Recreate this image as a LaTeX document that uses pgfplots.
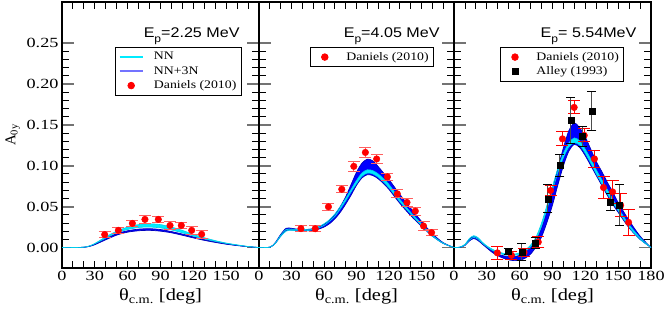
\documentclass[border=0pt]{standalone}
\usepackage{fontspec}
\setmainfont{Liberation Serif}
\newfontfamily\tickfont{Liberation Serif}[FakeStretch=1.3]
\newfontfamily\legfont{Liberation Serif}[FakeStretch=1.2]
\newfontfamily\titlefont{Liberation Sans}[FakeStretch=1.15]
\usepackage{pgfplots}
\usepackage{pgfplotstable}
\pgfplotsset{compat=1.18}
\usepgfplotslibrary{fillbetween}

\definecolor{nncol}{RGB}{0,235,255}
\definecolor{nnedge}{RGB}{0,205,235}
\definecolor{tnfill}{RGB}{0,0,255}
\definecolor{tnedge}{RGB}{0,0,190}
\definecolor{tnleg}{RGB}{115,115,255}
\definecolor{errred}{RGB}{255,95,95}

% theta, NN upper, NN lower, NN+3N upper, NN+3N lower
\pgfplotstableread{
t nu nl tu tl
0 0 0 0 0
10 0 0 0 0
20 0.0005 0.0004 0.0004 0.0003
25 0.002 0.0018 0.0017 0.0014
30 0.005 0.0045 0.004 0.0035
40 0.013 0.0115 0.011 0.0095
50 0.020 0.018 0.017 0.0152
60 0.025 0.022 0.0205 0.0188
70 0.028 0.0245 0.0225 0.0205
80 0.029 0.025 0.023 0.021
90 0.028 0.024 0.022 0.020
100 0.025 0.0215 0.0195 0.018
110 0.021 0.018 0.0165 0.015
120 0.016 0.014 0.013 0.0118
130 0.012 0.0105 0.0097 0.0088
140 0.0085 0.0075 0.007 0.0063
150 0.0055 0.005 0.0046 0.0041
160 0.0033 0.003 0.0027 0.0024
170 0.0013 0.0012 0.0011 0.001
180 0 0 0 0
}\bandA

\pgfplotstableread{
t nu nl tu tl
0 0 0 0 0
10 0.0005 0.0004 0.0005 0.0004
15 0.0055 0.005 0.006 0.005
20 0.015 0.0135 0.016 0.014
25 0.022 0.020 0.0235 0.021
30 0.0225 0.021 0.0235 0.0215
35 0.022 0.0205 0.0225 0.021
40 0.022 0.0205 0.0222 0.0205
45 0.0222 0.0208 0.0222 0.0205
50 0.023 0.0218 0.023 0.021
55 0.0255 0.024 0.025 0.0225
60 0.029 0.027 0.028 0.025
65 0.034 0.032 0.033 0.029
70 0.041 0.038 0.040 0.035
75 0.050 0.047 0.050 0.043
80 0.060 0.057 0.062 0.053
85 0.071 0.068 0.077 0.064
90 0.082 0.078 0.092 0.076
95 0.091 0.087 0.103 0.085
100 0.095 0.091 0.108 0.089
105 0.094 0.090 0.106 0.088
110 0.090 0.086 0.099 0.084
115 0.084 0.080 0.091 0.078
120 0.077 0.073 0.083 0.071
130 0.059 0.056 0.065 0.054
140 0.043 0.041 0.048 0.039
150 0.029 0.027 0.032 0.026
160 0.015 0.014 0.017 0.014
170 0.0055 0.005 0.006 0.005
180 0 0 0 0
}\bandB

\pgfplotstableread{
t nu nl tu tl
0 0 0 0 0
5 0.0005 0.0003 0.0003 0.0002
10 0.004 0.003 0.003 0.0025
14 0.011 0.009 0.010 0.008
18 0.0145 0.0125 0.013 0.011
22 0.012 0.010 0.010 0.0085
26 0.0065 0.005 0.005 0.004
30 0.002 0.001 0.0005 -0.0005
35 -0.002 -0.0035 -0.004 -0.006
40 -0.005 -0.0065 -0.008 -0.010
45 -0.007 -0.0085 -0.010 -0.013
50 -0.008 -0.0095 -0.011 -0.015
55 -0.008 -0.0095 -0.011 -0.016
60 -0.0065 -0.008 -0.0095 -0.0155
65 -0.003 -0.005 -0.006 -0.013
70 0.003 0.001 0.000 -0.008
75 0.013 0.010 0.009 0.001
80 0.030 0.026 0.024 0.013
85 0.052 0.047 0.045 0.031
90 0.075 0.070 0.070 0.052
95 0.097 0.092 0.097 0.077
100 0.115 0.110 0.122 0.100
105 0.128 0.123 0.143 0.118
110 0.134 0.128 0.152 0.126
115 0.130 0.125 0.146 0.122
120 0.120 0.115 0.135 0.112
125 0.108 0.103 0.120 0.100
130 0.095 0.090 0.105 0.088
135 0.083 0.078 0.093 0.076
140 0.071 0.066 0.080 0.064
145 0.059 0.055 0.068 0.053
150 0.048 0.045 0.055 0.043
160 0.028 0.025 0.033 0.024
170 0.012 0.010 0.014 0.010
180 0 0 0 0
}\bandC

\pgfplotstableread{
t a e
39 0.0158 0.004
51.5 0.021 0.004
64.3 0.0295 0.004
75.8 0.0344 0.005
88 0.0344 0.004
98.7 0.027 0.005
109 0.027 0.004
118.5 0.021 0.005
127.6 0.0162 0.005
}\danA

\pgfplotstableread{
t a e
38.7 0.0231 0.004
51.9 0.023 0.004
64.1 0.0498 0.004
76.4 0.0712 0.004
87.5 0.0992 0.006
98.2 0.1162 0.006
108.6 0.1082 0.005
118.5 0.0863 0.004
127.7 0.0656 0.005
136.6 0.0551 0.005
144.3 0.0445 0.005
151.9 0.0263 0.005
159.3 0.0182 0.004
}\danB

\pgfplotstableread{
t a e
39.6 -0.0065 0.008
52.5 -0.0095 0.005
64 -0.006 0.005
77 0.0068 0.007
88.2 0.0697 0.006
99.1 0.1328 0.0087
109.8 0.1712 0.008
119 0.137 0.008
128.3 0.1083 0.01
136.6 0.0733 0.013
144.9 0.068 0.014
152.3 0.0516 0.014
159.5 0.0308 0.016
}\danC

\pgfplotstableread{
t a e
49.7 -0.005 0.004
62 -0.0053 0.01
74.1 0.0052 0.0067
85.7 0.0595 0.017
96.8 0.1004 0.0135
106.8 0.1551 0.028
117.4 0.1357 0.0125
126 0.1671 0.024
142.8 0.0555 0.0105
151 0.0518 0.025
}\alleyC

\pgfplotsset{
  panel/.style={
    scale only axis, height=266bp,
    xmin=0, xmax=180, ymin=-0.025, ymax=0.3,
    xtick={0,30,60,90,120,150,180}, minor x tick num=2,
    ytick={0,0.05,0.1,0.15,0.2,0.25}, minor y tick num=4,
    tick align=inside, xtick pos=both, ytick pos=both,
    axis line style={black, line width=1.2bp},
    major tick length=7bp, minor tick length=7bp,
    major x tick style={black, line width=0.9bp},
    minor x tick style={black, line width=0.9bp},
    major y tick style={/pgfplots/major tick length=12bp, black!55, line width=1.8bp},
    minor y tick style={black, line width=0.9bp},
    /pgf/number format/assume math mode=true,
    tick label style={font=\tickfont\fontsize{14bp}{16bp}\selectfont},
    yticklabel style={/pgf/number format/.cd, fixed, fixed zerofill, precision=2},
    xlabel={θ\textsubscript{c.m.} [deg]},
    xlabel style={font=\legfont\fontsize{17bp}{19bp}\selectfont, yshift=-1bp},
    legend cell align=left,
    legend style={font=\legfont\fontsize{11.5bp}{13bp}\selectfont, draw=black, line width=0.8bp,
      inner xsep=3bp, inner ysep=3bp, row sep=1.2bp, anchor=north west,
      /tikz/every odd column/.append style={column sep=8bp}},
    legend image code/.code={\path[draw=none, fill=none] (0bp,-3bp) rectangle (23bp,3bp);
      \draw[mark repeat=2, mark phase=2, ##1] plot coordinates {(0bp,0bp) (11.5bp,0bp) (23bp,0bp)};},
  },
  dan/.style={only marks, mark=*, mark size=3.3bp, mark options={draw=red, fill=red}},
  aly/.style={only marks, mark=square*, mark size=3bp, mark options={draw=black, fill=black}},
  ebar/.style={error bars/.cd, y dir=both, y explicit, error mark=|,
    error bar style={#1, line width=1bp}, error mark options={#1, line width=1bp, mark size=6bp}},
}

\newcommand{\bands}[1]{%
  \addplot[name path=tu, draw=tnedge, line width=0.7bp, smooth, forget plot] table[x=t, y=tu] {#1};
  \addplot[name path=tl, draw=tnedge, line width=0.7bp, smooth, forget plot] table[x=t, y=tl] {#1};
  \addplot[fill=tnfill, draw=none, forget plot] fill between[of=tu and tl];
  \addplot[name path=nu, draw=nnedge, line width=0.6bp, smooth, forget plot] table[x=t, y=nu] {#1};
  \addplot[name path=nl, draw=nnedge, line width=0.6bp, smooth, forget plot] table[x=t, y=nl] {#1};
  \addplot[fill=nncol, draw=none, forget plot] fill between[of=nu and nl];
}

\begin{document}
\begin{tikzpicture}
% Panel 1
\begin{axis}[panel, at={(62bp,44bp)}, anchor=south west, width=197bp,
  xticklabels={0,30,60,90,120,150,},
  ylabel={A\textsubscript{0y}},
  ylabel style={font=\fontsize{15bp}{17bp}\selectfont},
  legend style={at={(rel axis cs:0.269,0.831)}}]
\bands{\bandA}
\addplot[dan, forget plot, ebar=errred] table[x=t, y=a, y error=e] {\danA};
\addlegendimage{nncol, line width=1.5bp}\addlegendentry{NN}
\addlegendimage{tnleg, line width=2.6bp}\addlegendentry{NN+3N}
\addlegendimage{dan}\addlegendentry{Daniels (2010)}
\node[anchor=base east, font=\titlefont\fontsize{14bp}{16bp}\selectfont] at (rel axis cs:0.919,0.866)
  {E\raisebox{-4.5bp}{\fontsize{10.5bp}{11bp}\selectfont p}=2.25 MeV};
\end{axis}
% Panel 2
\begin{axis}[panel, at={(259bp,44bp)}, anchor=south west, width=195bp,
  xticklabels={0,30,60,90,120,150,}, yticklabels={},
  legend style={at={(rel axis cs:0.261,0.831)}}]
\bands{\bandB}
\addplot[dan, forget plot, ebar=errred] table[x=t, y=a, y error=e] {\danB};
\addlegendimage{dan}\addlegendentry{Daniels (2010)}
\node[anchor=base east, font=\titlefont\fontsize{14bp}{16bp}\selectfont] at (rel axis cs:0.944,0.866)
  {E\raisebox{-4.5bp}{\fontsize{10.5bp}{11bp}\selectfont p}=4.05 MeV};
\end{axis}
% Panel 3
\begin{axis}[panel, at={(454bp,44bp)}, anchor=south west, width=197bp,
  yticklabels={},
  legend style={at={(rel axis cs:0.234,0.831)}}]
\bands{\bandC}
\addplot[dan, forget plot, ebar=red] table[x=t, y=a, y error=e] {\danC};
\addplot[aly, forget plot, error bars/.cd, y dir=both, y explicit, error mark=|,
  error bar style={black!70, line width=1bp}, error mark options={black, line width=1bp, mark size=4.5bp}]
  table[x=t, y=a, y error=e] {\alleyC};
\addlegendimage{dan}\addlegendentry{Daniels (2010)}
\addlegendimage{aly}\addlegendentry{Alley (1993)}
\node[anchor=base east, font=\titlefont\fontsize{14bp}{16bp}\selectfont] at (rel axis cs:0.944,0.866)
  {E\raisebox{-4.5bp}{\fontsize{10.5bp}{11bp}\selectfont p}= 5.54MeV};
\end{axis}
\pgfresetboundingbox
\path (0bp,0bp) rectangle (664bp,312bp);
\end{tikzpicture}
\end{document}
